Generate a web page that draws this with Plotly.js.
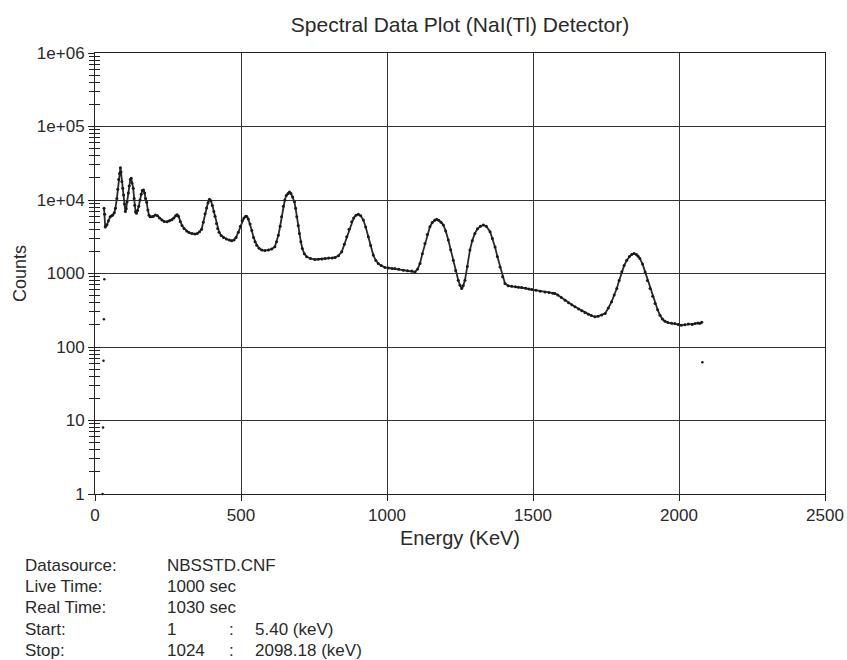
<!DOCTYPE html>
<html>
<head>
<meta charset="utf-8">
<script src="https://cdn.plot.ly/plotly-3.0.1.min.js"></script>
<style>html,body{margin:0;padding:0;background:#fff;}#chart{width:847px;height:660px;}</style>
</head>
<body>
<div id="chart"></div>
<script>
// Spectrum (energy keV, counts)
const energy = [31,33,35,38,41,46,52,57,61,66,70,75,78,81,84,87,89,92,95,98,101,104,107,110,114,117,121,124,127,131,134,136,139,142,146,150,154,158,162,166,170,173,177,181,185,189,195,200,207,214,221,229,237,247,255,263,270,276,281,286,292,298,305,314,322,332,342,350,358,365,371,377,382,387,392,397,402,407,411,416,420,425,432,440,450,460,468,476,483,491,498,504,510,516,520,525,531,537,543,548,554,562,571,582,594,605,616,622,628,634,639,645,650,655,661,666,671,677,683,687,691,696,700,705,710,717,725,738,753,765,777,788,800,812,822,834,845,854,862,870,879,886,894,902,910,919,927,936,944,953,962,970,980,993,1005,1017,1027,1040,1056,1070,1085,1096,1105,1113,1121,1130,1138,1147,1155,1163,1170,1177,1185,1193,1201,1210,1218,1227,1235,1244,1250,1256,1261,1267,1275,1284,1292,1301,1310,1320,1330,1340,1353,1361,1370,1378,1387,1396,1404,1415,1427,1440,1450,1461,1475,1486,1496,1510,1525,1541,1555,1568,1575,1585,1597,1610,1622,1633,1644,1656,1667,1678,1690,1700,1712,1723,1735,1747,1758,1769,1778,1787,1795,1804,1812,1821,1830,1838,1846,1854,1860,1866,1875,1884,1892,1901,1910,1918,1927,1935,1943,1952,1962,1975,1986,1997,2008,2020,2032,2045,2055,2065,2072,2078];
const counts = [7700,6400,4300,4500,4600,5200,5900,6100,6250,6700,7700,10500,14000,19000,23000,27500,24000,17800,14400,11700,8800,7000,7600,9500,12500,15500,19000,19700,17000,14400,10500,8500,6900,6600,7200,8200,10000,12000,13500,13700,12500,10500,9300,7300,6200,5900,5900,6000,6250,6100,5700,5340,5100,5070,5200,5400,5700,6100,6300,6000,5100,4500,4100,3800,3600,3500,3450,3500,3700,4000,5000,6500,7800,9200,10200,9800,8400,7000,6000,4800,4100,3650,3300,3100,2950,2850,2800,2850,3100,3650,4400,5200,5700,6000,5950,5500,4700,3850,3100,2700,2430,2200,2080,2050,2080,2150,2310,2700,3310,4400,5900,8200,10000,11500,12300,12800,12300,11000,9500,7700,5900,4500,3500,2700,2190,1850,1690,1600,1550,1560,1580,1600,1620,1630,1650,1750,1970,2500,3160,4000,5070,5700,6200,6390,6100,5340,4300,3160,2400,1780,1500,1370,1280,1210,1190,1170,1170,1140,1110,1090,1080,1050,1150,1370,1850,2560,3400,4330,4950,5300,5450,5300,5000,4570,3800,2850,2100,1520,1100,810,690,625,680,810,1250,2080,2800,3510,4050,4400,4570,4400,3700,3000,2300,1700,1230,900,730,680,672,660,650,645,630,615,605,590,575,562,550,540,535,510,470,434,400,375,352,330,312,295,280,268,257,262,272,286,340,412,510,625,800,1054,1280,1515,1700,1820,1870,1820,1720,1600,1350,1050,800,625,490,390,320,270,240,224,215,210,208,203,198,200,205,203,208,212,210,217];
// isolated channels (low-energy edge and last channel)
const edgeEnergy = [26,27.5,29,30.5,32,2080];
const edgeCounts = [1,8,65,238,833,62];

const xTicks = [0,500,1000,1500,2000,2500];
const yTicks = [1,10,100,1000,10000,100000,1000000];
const yTickText = ['1','10','100','1000','1e+04','1e+05','1e+06'];

const infoLabels = ['Datasource:','Live Time:','Real Time:','Start:','Stop:'];
const infoValues = ['NBSSTD.CNF','1000 sec','1030 sec','1','1024'];
const infoSep = ['','','',':',':'];
const infoEnergy = ['','','','5.40 (keV)','2098.18 (keV)'];

const FONT = 'Liberation Sans, Arial, sans-serif';
const TXT = '#2a2a2a';

const traces = [
  {x: energy, y: counts, type: 'scatter', mode: 'lines+markers',
   line: {color: '#2a2a2a', width: 1.8}, marker: {color: '#1a1a1a', size: 3},
   hoverinfo: 'x+y', showlegend: false},
  {x: edgeEnergy, y: edgeCounts, type: 'scatter', mode: 'markers',
   marker: {color: '#1a1a1a', size: 2.5}, showlegend: false, cliponaxis: false},
  {x: [], y: [], type: 'scatter', mode: 'markers', yaxis: 'y2', showlegend: false, hoverinfo: 'skip'}
];

const rowY = [565,586,607,629,650];
const ann = [];
function px2x(p){ return (p-95)/730; }
function px2y(p){ return (494-p)/441; }
for (let i=0;i<infoLabels.length;i++){
  const cols = [[infoLabels[i],23],[infoValues[i],165],[infoSep[i],227],[infoEnergy[i],253]];
  cols.forEach(c=>{
    if(!c[0]) return;
    ann.push({text:c[0], xref:'paper', yref:'paper', x:px2x(c[1]), y:px2y(rowY[i]),
      xanchor:'left', yanchor:'middle', showarrow:false, font:{family:FONT, size:17, color:TXT}});
  });
}

const layout = {
  width: 847, height: 660,
  margin: {l:95, r:22, t:53, b:166},
  paper_bgcolor: '#fff', plot_bgcolor: '#fff',
  title: {text: 'Spectral Data Plot (NaI(Tl) Detector)', font:{family:FONT, size:21, color:TXT},
          x: 0.5431, xanchor:'center', y: 0.963, yanchor:'middle'},
  xaxis: {range:[0,2500], tickvals:xTicks, ticktext:xTicks.map(String), ticks:'outside', ticklen:6,
          tickcolor:'#222', tickwidth:1, showgrid:true, gridcolor:'#333', gridwidth:1, zeroline:false,
          showline:true, linecolor:'#222', linewidth:1, mirror:true,
          tickfont:{family:FONT, size:17, color:TXT},
          title:{text:'Energy (KeV)', font:{family:FONT, size:20, color:TXT}, standoff:6}},
  yaxis: {type:'log', range:[0,6], tickvals:yTicks, ticktext:yTickText, ticks:'outside', ticklen:6,
          tickcolor:'#222', tickwidth:1, showgrid:true, gridcolor:'#333', gridwidth:1, zeroline:false,
          showline:true, linecolor:'#222', linewidth:1, mirror:true,
          minor:{ticks:'outside', ticklen:5, tickcolor:'#222', tickwidth:1, dtick:'D1', showgrid:false},
          tickfont:{family:FONT, size:17, color:TXT},
          title:{text:'Counts', font:{family:FONT, size:18, color:TXT}, standoff:5}},
  yaxis2: {type:'log', range:[0,6], overlaying:'y', side:'left', tickvals:yTicks, ticks:'inside', ticklen:6,
          tickcolor:'#222', tickwidth:1, showticklabels:false, showgrid:false, zeroline:false, showline:false,
          minor:{ticks:'inside', ticklen:5, tickcolor:'#222', tickwidth:1, dtick:'D1', showgrid:false}},
  annotations: ann,
  showlegend: false
};

Plotly.newPlot('chart', traces, layout, {displayModeBar:false, staticPlot:true});
</script>
</body>
</html>
